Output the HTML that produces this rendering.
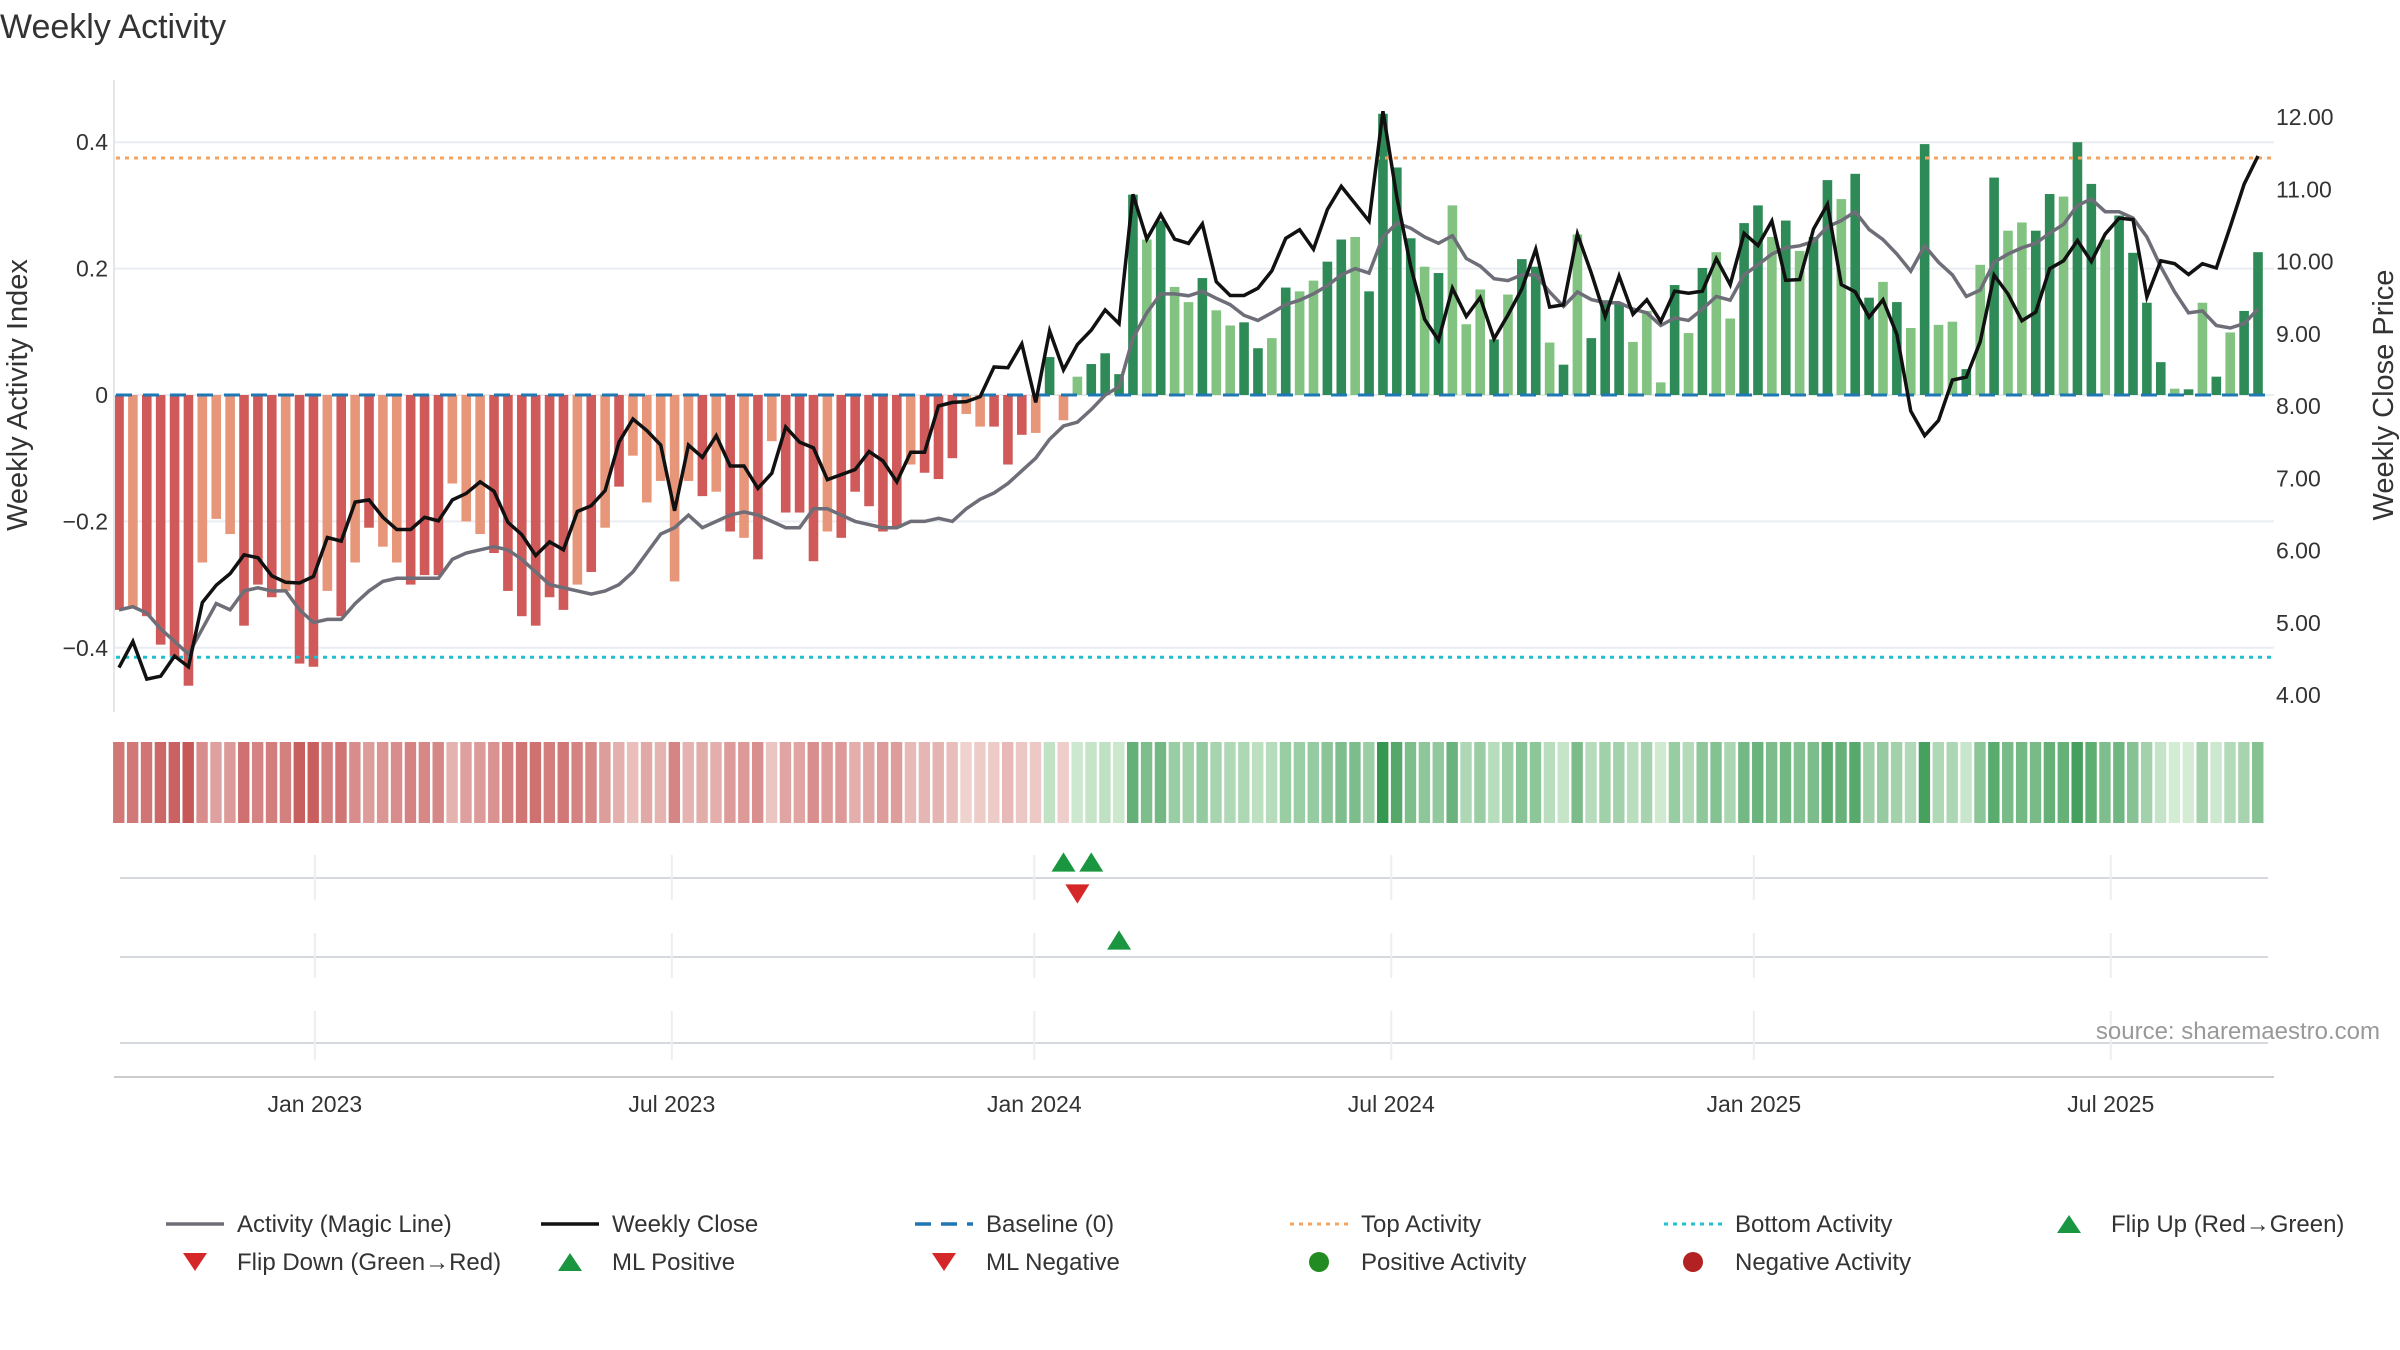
<!DOCTYPE html>
<html><head><meta charset="utf-8"><style>
html,body{margin:0;padding:0;background:#fff;}
svg{display:block;font-family:"Liberation Sans","DejaVu Sans",sans-serif;}
</style></head><body>
<svg id="chart" width="2400" height="1350" viewBox="0 0 2400 1350" xmlns="http://www.w3.org/2000/svg">
<text x="0" y="38" font-size="34" fill="#333">Weekly Activity</text>
<g id="grid"></g>
<g id="bars"></g>
<g id="refs"></g>
<g id="lines"></g>
<g id="axes"></g>
<g id="strip"></g>
<g id="signals"></g>
<text x="2380" y="1039" font-size="24" fill="#999" text-anchor="end">source: sharemaestro.com</text>
<g id="legend"></g>
</svg>
<script>
const activity=[-0.34,-0.335,-0.35,-0.395,-0.415,-0.46,-0.265,-0.196,-0.22,-0.365,-0.30,-0.32,-0.31,-0.425,-0.43,-0.31,-0.35,-0.265,-0.21,-0.24,-0.265,-0.30,-0.285,-0.285,-0.14,-0.20,-0.22,-0.25,-0.31,-0.35,-0.365,-0.32,-0.34,-0.30,-0.28,-0.21,-0.145,-0.096,-0.17,-0.136,-0.295,-0.136,-0.16,-0.153,-0.216,-0.226,-0.26,-0.073,-0.186,-0.186,-0.263,-0.216,-0.226,-0.153,-0.176,-0.216,-0.21,-0.11,-0.123,-0.133,-0.10,-0.03,-0.05,-0.05,-0.11,-0.063,-0.06,
0.06,-0.04,0.029,0.049,0.066,0.033,0.317,0.246,0.276,0.171,0.147,0.185,0.134,0.11,0.115,0.074,0.09,0.17,0.164,0.181,0.211,0.246,0.25,0.164,0.445,0.36,0.248,0.203,0.193,0.30,0.112,0.167,0.088,0.159,0.215,0.203,0.083,0.048,0.254,0.09,0.15,0.146,0.084,0.133,0.02,0.174,0.098,0.201,0.226,0.121,0.272,0.30,0.25,0.276,0.228,0.25,0.34,0.31,0.35,0.154,0.179,0.147,0.106,0.397,0.111,0.116,0.041,0.206,0.344,0.26,0.273,0.26,0.318,0.314,0.40,0.334,0.246,0.284,0.225,0.146,0.052,0.01,0.009,0.146,0.029,0.099,0.133,0.226];
const strong="1011110001110110101001110001111110101000001010101110111110111001110100111101001001101001101111010001011010111000101001101011011010100101001101101111010101101000001011"
const magic=[-0.34,-0.335,-0.345,-0.37,-0.39,-0.41,-0.37,-0.33,-0.34,-0.31,-0.305,-0.31,-0.31,-0.34,-0.36,-0.355,-0.355,-0.33,-0.31,-0.295,-0.29,-0.29,-0.29,-0.29,-0.26,-0.25,-0.245,-0.24,-0.245,-0.26,-0.28,-0.30,-0.305,-0.31,-0.315,-0.31,-0.30,-0.28,-0.25,-0.22,-0.21,-0.19,-0.21,-0.20,-0.19,-0.185,-0.19,-0.20,-0.21,-0.21,-0.18,-0.18,-0.19,-0.20,-0.205,-0.21,-0.21,-0.20,-0.2,-0.195,-0.20,-0.18,-0.165,-0.155,-0.14,-0.12,-0.10,
-0.07,-0.049,-0.043,-0.023,0,0.013,0.09,0.13,0.16,0.16,0.157,0.164,0.153,0.143,0.126,0.118,0.13,0.143,0.15,0.16,0.173,0.19,0.2,0.193,0.25,0.272,0.264,0.25,0.24,0.252,0.216,0.204,0.184,0.181,0.19,0.19,0.163,0.14,0.163,0.151,0.146,0.146,0.136,0.13,0.11,0.122,0.118,0.136,0.156,0.15,0.19,0.206,0.223,0.233,0.236,0.243,0.266,0.276,0.29,0.262,0.246,0.223,0.196,0.236,0.21,0.19,0.156,0.166,0.21,0.223,0.233,0.24,0.256,0.27,0.30,0.31,0.29,0.29,0.28,0.25,0.203,0.163,0.13,0.133,0.11,0.106,0.113,0.136];
const closePrice=[4.38,4.74,4.22,4.26,4.54,4.39,5.28,5.52,5.68,5.94,5.90,5.65,5.56,5.55,5.64,6.18,6.13,6.67,6.70,6.46,6.29,6.29,6.46,6.41,6.70,6.79,6.95,6.82,6.39,6.22,5.93,6.12,6.01,6.54,6.62,6.83,7.50,7.82,7.66,7.46,6.55,7.46,7.29,7.59,7.17,7.17,6.86,7.07,7.71,7.50,7.42,6.98,7.05,7.12,7.37,7.24,6.95,7.36,7.36,8.00,8.05,8.06,8.13,8.54,8.53,8.86,8.05,
9.04,8.5,8.85,9.05,9.33,9.14,10.93,10.31,10.65,10.31,10.25,10.52,9.72,9.53,9.53,9.63,9.87,10.32,10.44,10.17,10.72,11.04,10.80,10.56,12.08,10.89,9.93,9.20,8.91,9.63,9.24,9.50,8.93,9.26,9.62,10.17,9.37,9.40,10.38,9.84,9.24,9.80,9.27,9.47,9.17,9.59,9.56,9.59,10.04,9.68,10.39,10.22,10.56,9.74,9.75,10.45,10.79,9.68,9.58,9.23,9.47,8.99,7.93,7.59,7.80,8.36,8.40,8.89,9.81,9.55,9.18,9.30,9.90,10.01,10.29,10.00,10.38,10.60,10.58,9.51,10.01,9.97,9.82,9.97,9.91,10.48,11.07,11.46];
const leftTicks=[0.4,0.2,0,-0.2,-0.4];
const leftTickLabels=["0.4","0.2","0","\u22120.2","\u22120.4"];
const rightTicks=[12,11,10,9,8,7,6,5,4];
const dateTickPos=[14.1,39.8,65.9,91.6,117.7,143.4];
const dateTickLabels=["Jan 2023","Jul 2023","Jan 2024","Jul 2024","Jan 2025","Jul 2025"];
const topActivity=0.375, bottomActivity=-0.415;
const flipUpIdx=[68,70], flipDownIdx=[69], mlPositiveIdx=[72], mlNegativeIdx=[];

const NS="http://www.w3.org/2000/svg";
const N=activity.length;
const X0=119, X1=2258, PL=114, PR=2274;
const xS=i=>X0+i*(X1-X0)/(N-1);
const yL=v=>395-v*632;
const yR=p=>117+(12-p)*72.25;
function mk(tag,attrs,parent){const e=document.createElementNS(NS,tag);for(const k in attrs)e.setAttribute(k,attrs[k]);parent.appendChild(e);return e;}
const G=id=>document.getElementById(id);

// grid
leftTicks.forEach((t)=>{const l=mk('line',{x1:PL,x2:PR,y1:yL(t),y2:yL(t),stroke:'#e9edf2','stroke-width':2},G('grid'));

});
// bars
const bw=9.6;
activity.forEach((v,i)=>{const s=strong[i]==='1';
const c=v<0?(s?'#d05a5a':'#e8967a'):(s?'#2e8b57':'#82c382');
const r=mk('rect',{x:xS(i)-bw/2,y:Math.min(yL(v),yL(0)),width:bw,height:Math.abs(yL(v)-yL(0)),fill:c},G('bars'));

});
// reference lines
let e;
e=mk('line',{x1:PL+2,x2:PR,y1:yL(0),y2:yL(0),stroke:'#1f77b4','stroke-width':3,'stroke-dasharray':'16 11'},G('refs'));


e=mk('line',{x1:PL+2,x2:PR,y1:yL(topActivity),y2:yL(topActivity),stroke:'#f4a460','stroke-width':3,'stroke-dasharray':'4 5'},G('refs'));


e=mk('line',{x1:PL+2,x2:PR,y1:yL(bottomActivity),y2:yL(bottomActivity),stroke:'#20c0d0','stroke-width':3,'stroke-dasharray':'4 5'},G('refs'));


// lines
e=mk('polyline',{points:magic.map((v,i)=>xS(i)+','+yL(v)).join(' '),fill:'none',stroke:'#6e6e78','stroke-width':3.5},G('lines'));


e=mk('polyline',{points:closePrice.map((v,i)=>xS(i)+','+yR(v)).join(' '),fill:'none',stroke:'#111','stroke-width':3.5},G('lines'));


// axes
e=mk('line',{x1:PL,x2:PL,y1:80,y2:712,stroke:'#e3e6ea','stroke-width':2},G('axes'));


leftTicks.forEach((t,k)=>{const tx=mk('text',{x:108,y:yL(t)+8,'font-size':23,fill:'#333','text-anchor':'end'},G('axes'));tx.textContent=leftTickLabels[k];

});
rightTicks.forEach(t=>{const tx=mk('text',{x:2276,y:yR(t)+8,'font-size':23,fill:'#333'},G('axes'));tx.textContent=t.toFixed(2);

});
e=mk('text',{x:0,y:0,'font-size':29,fill:'#333','text-anchor':'middle',transform:'translate(27,395) rotate(-90)'},G('axes'));e.textContent='Weekly Activity Index';


e=mk('text',{x:0,y:0,'font-size':29,fill:'#333','text-anchor':'middle',transform:'translate(2393,395) rotate(-90)'},G('axes'));e.textContent='Weekly Close Price';


// heat strip
const cw=(X1-X0)/(N-1);
function mix(a,b,t){return 'rgb('+a.map((x,k)=>Math.round(x+(b[k]-x)*t)).join(',')+')';}
activity.forEach((v,i)=>{const t=Math.min(1,Math.abs(v)/0.45);
const c=v<0?mix([242,218,214],[198,88,88],t):mix([215,238,215],[52,150,78],t);
const r=mk('rect',{x:xS(i)-cw/2+1,y:742,width:cw-2.5,height:81,fill:c},G('strip'));

});
// signal rows
[878,957,1043].forEach(y=>{const l=mk('line',{x1:120,x2:2268,y1:y,y2:y,stroke:'#d5d9de','stroke-width':2},G('signals'));

});
dateTickPos.forEach((p,k)=>{const x=xS(p);
[[855,900],[933,978],[1011,1060]].forEach(s=>{const l=mk('line',{x1:x,x2:x,y1:s[0],y2:s[1],stroke:'#eceef1','stroke-width':2},G('signals'));

});
const tx=mk('text',{x:x,y:1112,'font-size':23,fill:'#333','text-anchor':'middle'},G('signals'));tx.textContent=dateTickLabels[k];

});
e=mk('line',{x1:114,x2:2274,y1:1077,y2:1077,stroke:'#ccc','stroke-width':2},G('signals'));


function tri(x,y,up,c,p,name){const s=12;const pts=up?`${x-s},${y+s*0.8} ${x+s},${y+s*0.8} ${x},${y-s*0.8}`:`${x-s},${y-s*0.8} ${x+s},${y-s*0.8} ${x},${y+s*0.8}`;
const t=mk('polygon',{points:pts,fill:c},p);

}
flipUpIdx.forEach(i=>tri(xS(i),862,true,'#1a9641',G('signals'),'flip-up-marker'));
flipDownIdx.forEach(i=>tri(xS(i),894,false,'#d62728',G('signals'),'flip-down-marker'));
mlPositiveIdx.forEach(i=>tri(xS(i),940,true,'#1a9641',G('signals'),'ml-positive-marker'));
mlNegativeIdx.forEach(i=>tri(xS(i),975,false,'#d62728',G('signals'),'ml-negative-marker'));
// legend
const L=G('legend');
function lg(x,y,label,kind){const g=mk('g',{},L);


if(kind.type==='line')mk('line',{x1:x,x2:x+58,y1:y,y2:y,stroke:kind.c,'stroke-width':kind.w||3.5,'stroke-dasharray':kind.d||''},g);
else if(kind.type==='tri'){const s=12,cx=x+29;mk('polygon',{points:kind.up?`${cx-s},${y+9} ${cx+s},${y+9} ${cx},${y-9}`:`${cx-s},${y-9} ${cx+s},${y-9} ${cx},${y+9}`,fill:kind.c},g);}
else mk('circle',{cx:x+29,cy:y,r:10,fill:kind.c},g);
const t=mk('text',{x:x+71,y:y+8,'font-size':24,fill:'#333'},g);t.textContent=label;}
lg(166,1224,'Activity (Magic Line)',{type:'line',c:'#6e6e78'});
lg(541,1224,'Weekly Close',{type:'line',c:'#111'});
lg(915,1224,'Baseline (0)',{type:'line',c:'#1f77b4',d:'16 10'});
lg(1290,1224,'Top Activity',{type:'line',c:'#f4a460',d:'4 5',w:3});
lg(1664,1224,'Bottom Activity',{type:'line',c:'#20c0d0',d:'4 5',w:3});
lg(2040,1224,'Flip Up (Red\u2192Green)',{type:'tri',up:true,c:'#1a9641'});
lg(166,1262,'Flip Down (Green\u2192Red)',{type:'tri',up:false,c:'#d62728'});
lg(541,1262,'ML Positive',{type:'tri',up:true,c:'#1a9641'});
lg(915,1262,'ML Negative',{type:'tri',up:false,c:'#d62728'});
lg(1290,1262,'Positive Activity',{type:'circle',c:'#228b22'});
lg(1664,1262,'Negative Activity',{type:'circle',c:'#b22222'});
</script>
</body></html>
